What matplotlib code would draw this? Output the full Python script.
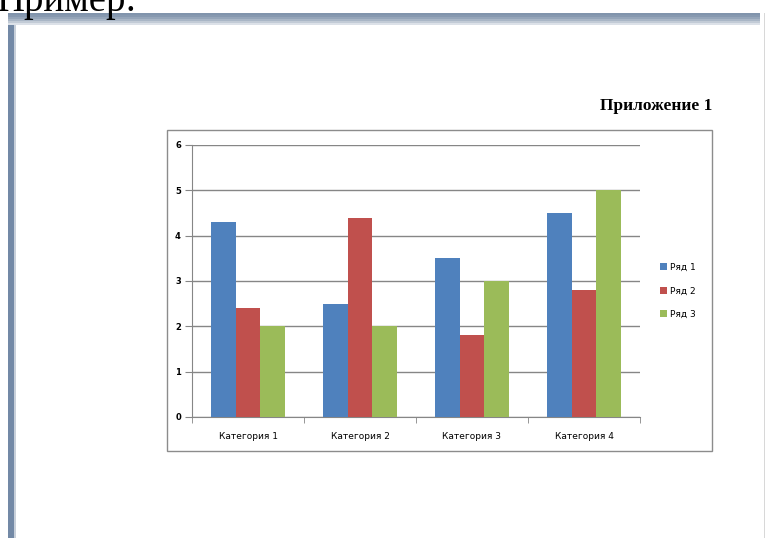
import matplotlib
matplotlib.use('Agg')
import matplotlib.pyplot as plt
from matplotlib.patches import Rectangle
import numpy as np

categories = ['Категория 1', 'Категория 2', 'Категория 3', 'Категория 4']
series_names = ['Ряд 1', 'Ряд 2', 'Ряд 3']
row1 = [4.3, 2.5, 3.5, 4.5]
row2 = [2.4, 4.4, 1.8, 2.8]
row3 = [2.0, 2.0, 3.0, 5.0]
colors = ['#4F81BD', '#C0504D', '#9BBB59']

W, H = 767, 538
fig = plt.figure(figsize=(W / 100, H / 100), dpi=100)
fig.patch.set_facecolor('white')

def fx(px): return px / W
def fy(py): return 1 - py / H

def frame_rect(x0, y0, x1, y1, **kw):
    # rectangle given in screenshot pixels (top-left origin)
    fig.patches.append(Rectangle((fx(x0), fy(y1)), fx(x1 - x0), fy(y0) - fy(y1),
                                 transform=fig.transFigure, zorder=-5, **kw))

# page frame of the document screenshot
frame_rect(8, 13, 14, 538, facecolor='#7389A6', edgecolor='none')
for i, c in enumerate(['#8194AC', '#8799B0', '#95A5B9', '#A9B6C6', '#C2CBD6', '#DCE1E8']):
    frame_rect(8, 13 + 2 * i, 760, 15 + 2 * i, facecolor=c, edgecolor='none')
frame_rect(14, 25, 16, 538, facecolor='#C8D0DA', edgecolor='none')
frame_rect(764, 13, 765, 538, facecolor='#D8D8D8', edgecolor='none')

fig.text(fx(-3), fy(11), 'Пример:', fontsize=28, family='Liberation Serif', va='baseline', ha='left')
fig.text(fx(712), fy(106), 'Приложение 1', fontsize=12.5, family='Liberation Serif',
         fontweight='bold', va='center', ha='right')

# chart border
frame_rect(167, 130, 712, 451, facecolor='white', edgecolor='#8C8C8C', lw=1)

ax = fig.add_axes([fx(192), fy(417), fx(448), fy(145) - fy(417)])
x = np.arange(len(categories))
bw = 0.219
for i, (vals, name) in enumerate(zip([row1, row2, row3], series_names)):
    ax.bar(x + (i - 1) * bw, vals, width=bw, color=colors[i], label=name, zorder=3)

ax.set_xlim(-0.5, 3.5)
ax.set_ylim(0, 6)
ax.set_yticks(range(0, 7))
ax.set_yticklabels([str(v) for v in range(0, 7)], fontsize=6, fontweight='bold')
ax.set_xticks(x)
ax.set_xticklabels(categories, fontsize=6.5)
ax.set_xticks(np.arange(-0.5, 4, 1), minor=True)
ax.tick_params(axis='x', which='major', length=0, pad=11)
ax.tick_params(axis='x', which='minor', length=4, color='#868686', direction='out')
ax.tick_params(axis='y', length=5, color='#868686', direction='out', pad=3)
ax.grid(True, axis='y', color='#868686', lw=1, zorder=0)
for s in ['top', 'right']:
    ax.spines[s].set_visible(False)
for s in ['left', 'bottom']:
    ax.spines[s].set_color('#868686')
ax.set_facecolor('none')

ax.legend(loc='center left', bbox_to_anchor=(fx(652 - 192) / fx(448), 1 - (291 - 145) / 272),
          frameon=False, fontsize=6.5, handlelength=0.8, handleheight=0.8,
          handletextpad=0.3, labelspacing=1.6)

fig.savefig('out.png', dpi=100, facecolor='white')
